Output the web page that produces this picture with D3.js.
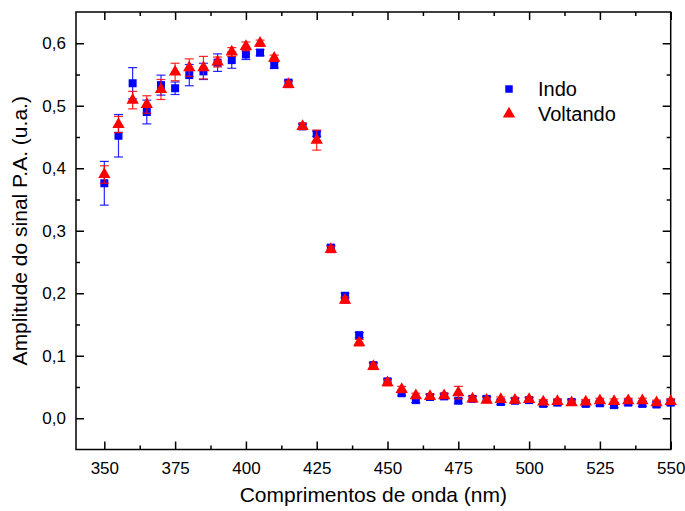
<!DOCTYPE html>
<html>
<head>
<meta charset="utf-8">
<script src="https://cdn.jsdelivr.net/npm/d3@7"></script>
<style>
  html, body { margin: 0; padding: 0; background: #fff; }
  svg { display: block; font-family: "Liberation Sans", Arial, sans-serif; }
</style>
</head>
<body>
<svg id="chart" width="685" height="511"></svg>
<script>
// Wavelengths (nm), 350 to 550 in steps of 5
const wavelengths = [350,355,360,365,370,375,380,385,390,395,400,405,410,415,420,425,430,435,440,445,450,455,460,465,470,475,480,485,490,495,500,505,510,515,520,525,530,535,540,545,550];

// "Indo" sweep (increasing wavelength)
const indoValues = [0.376,0.452,0.536,0.490,0.533,0.528,0.549,0.555,0.569,0.573,0.582,0.585,0.565,0.537,0.467,0.455,0.273,0.196,0.133,0.085,0.059,0.040,0.029,0.034,0.035,0.028,0.031,0.031,0.026,0.028,0.029,0.023,0.025,0.026,0.023,0.024,0.021,0.025,0.023,0.022,0.025];
const indoErrors = [0.035,0.034,0.025,0.019,0.016,0.010,0.017,0.013,0.014,0.013,0.008,0.005,0.005,0.004,0.004,0.004,0.004,0.004,0.004,0.004,0.004,0.004,0.004,0.004,0.004,0.004,0.004,0.004,0.004,0.004,0.004,0.004,0.004,0.004,0.004,0.004,0.004,0.004,0.004,0.004,0.004];

// "Voltando" sweep (decreasing wavelength)
const voltandoValues = [0.390,0.470,0.509,0.502,0.526,0.554,0.561,0.561,0.570,0.586,0.595,0.600,0.576,0.534,0.467,0.445,0.270,0.189,0.121,0.083,0.057,0.046,0.036,0.035,0.036,0.041,0.031,0.029,0.030,0.029,0.030,0.026,0.027,0.025,0.026,0.028,0.027,0.028,0.028,0.025,0.027];
const voltandoErrors = [0.014,0.013,0.014,0.014,0.016,0.014,0.014,0.018,0.008,0.007,0.007,0.005,0.005,0.005,0.005,0.016,0.005,0.005,0.005,0.005,0.005,0.005,0.004,0.004,0.004,0.010,0.004,0.004,0.004,0.004,0.004,0.004,0.004,0.004,0.004,0.004,0.004,0.004,0.004,0.004,0.004];

// Axis ticks
const xTickValues = [350,375,400,425,450,475,500,525,550];
const yTickValues = [0.0,0.1,0.2,0.3,0.4,0.5,0.6];
const xDomain = [340, 550];
const yDomain = [-0.05, 0.65];

const seriesNames = ["Indo", "Voltando"];
const seriesColors = ["#0000ff", "#ff0000"];

const margin = { left: 76, right: 14.3, top: 12, bottom: 61.5 };
const W = 685, H = 511;
const svg = d3.select("#chart");

const x = d3.scaleLinear().domain(xDomain).range([margin.left, W - margin.right]);
const y = d3.scaleLinear().domain(yDomain).range([H - margin.bottom, margin.top]);

const fmt = v => d3.format(".1f")(v).replace(".", ",");

// Minor ticks halfway between labelled ticks
const xMinor = d3.range(362.5, xDomain[1], 25);
const yMinor = d3.range(-0.05, 0.651, 0.1).map(v => +v.toFixed(3)).filter(v => v > yDomain[0] + 1e-6 && v < yDomain[1] - 1e-6);

const plotW = W - margin.left - margin.right;
const plotH = H - margin.top - margin.bottom;
const majorLen = 8, minorLen = 4;
const tickFont = "17px";

function drawAxis(axisFn, scale, majors, minors, transform, labelPad, formatter) {
  const gMaj = svg.append("g").attr("transform", transform)
    .call(axisFn(scale).tickValues(majors).tickSize(-majorLen).tickPadding(labelPad)
      .tickFormat(formatter || (() => "")));
  gMaj.select(".domain").remove();
  gMaj.selectAll("line").attr("stroke", "#000").attr("stroke-width", 1.5);
  gMaj.selectAll("text").attr("fill", "#000").style("font-size", tickFont)
    .style("font-family", '"Liberation Sans", Arial, sans-serif');
  const gMin = svg.append("g").attr("transform", transform)
    .call(axisFn(scale).tickValues(minors).tickSize(-minorLen).tickFormat(() => ""));
  gMin.select(".domain").remove();
  gMin.selectAll("line").attr("stroke", "#000").attr("stroke-width", 1.5);
  return gMaj;
}

// Bottom and top
drawAxis(d3.axisBottom, x, xTickValues, xMinor, `translate(0,${H - margin.bottom})`, 12, d3.format("d"));
drawAxis(d3.axisTop, x, xTickValues, xMinor, `translate(0,${margin.top})`, 0, null);
// Left and right
drawAxis(d3.axisLeft, y, yTickValues, yMinor, `translate(${margin.left},0)`, 10, fmt);
drawAxis(d3.axisRight, y, yTickValues, yMinor, `translate(${W - margin.right},0)`, 0, null);

// Frame
svg.append("rect")
  .attr("x", margin.left).attr("y", margin.top)
  .attr("width", plotW).attr("height", plotH)
  .attr("fill", "none").attr("stroke", "#000").attr("stroke-width", 1.5);

// Error bars and markers
const capHalf = 4.5;
const series = [
  { name: seriesNames[0], values: indoValues, errors: indoErrors, color: seriesColors[0], shape: "square" },
  { name: seriesNames[1], values: voltandoValues, errors: voltandoErrors, color: seriesColors[1], shape: "triangle" }
];

const squareSym = d3.symbol().type(d3.symbolSquare).size(64);
const triSym = d3.symbol().type(d3.symbolTriangle).size(66);

series.forEach(s => {
  const pts = wavelengths.map((w, i) => ({ w, v: s.values[i], e: s.errors[i] }));
  const g = svg.append("g");
  const eb = g.selectAll("g.eb").data(pts).join("g").attr("class", "eb")
    .attr("stroke", s.color).attr("stroke-width", 1.2).attr("stroke-opacity", 0.85);
  eb.append("line")
    .attr("x1", d => x(d.w)).attr("x2", d => x(d.w))
    .attr("y1", d => y(d.v - d.e)).attr("y2", d => y(d.v + d.e));
  eb.append("line")
    .attr("x1", d => x(d.w) - capHalf).attr("x2", d => x(d.w) + capHalf)
    .attr("y1", d => y(d.v + d.e)).attr("y2", d => y(d.v + d.e));
  eb.append("line")
    .attr("x1", d => x(d.w) - capHalf).attr("x2", d => x(d.w) + capHalf)
    .attr("y1", d => y(d.v - d.e)).attr("y2", d => y(d.v - d.e));
  g.selectAll("path.mk").data(pts).join("path").attr("class", "mk")
    .attr("d", s.shape === "square" ? squareSym : triSym)
    .attr("transform", d => `translate(${x(d.w)},${y(d.v)})`)
    .attr("fill", s.color);
});

// Legend
const legend = svg.append("g");
series.forEach((s, i) => {
  const ly = 89 + i * 25;
  legend.append("path")
    .attr("d", s.shape === "square" ? d3.symbol().type(d3.symbolSquare).size(56) : d3.symbol().type(d3.symbolTriangle).size(66))
    .attr("transform", `translate(509,${ly})`)
    .attr("fill", s.color);
  legend.append("text")
    .attr("x", 538).attr("y", ly + 7)
    .style("font-size", "20px").attr("fill", "#000")
    .text(s.name);
});

// Axis titles
svg.append("text")
  .attr("x", margin.left + plotW / 2).attr("y", 502)
  .attr("text-anchor", "middle").style("font-size", "21px").attr("fill", "#000")
  .text("Comprimentos de onda (nm)");
svg.append("text")
  .attr("transform", `translate(27,${margin.top + plotH / 2}) rotate(-90)`)
  .attr("text-anchor", "middle").style("font-size", "21px").attr("fill", "#000")
  .text("Amplitude do sinal P.A. (u.a.)");
</script>
</body>
</html>
